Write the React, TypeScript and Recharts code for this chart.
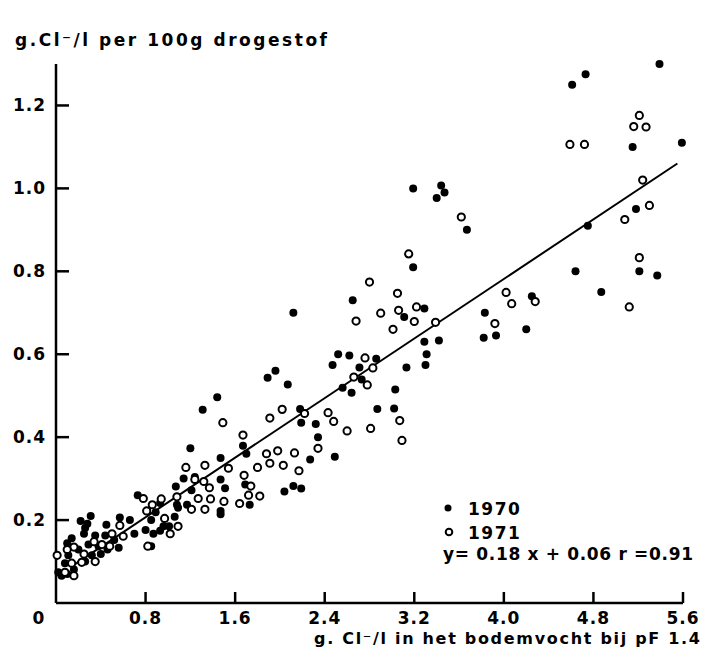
import React from 'react';
import { ScatterChart, Scatter, XAxis, YAxis, ReferenceLine, Label } from 'recharts';

const FONT = "'DejaVu Sans', 'Liberation Sans', sans-serif";

const xTicks = [0, 0.8, 1.6, 2.4, 3.2, 4.0, 4.8, 5.6];
const yTicks = [0.2, 0.4, 0.6, 0.8, 1.0, 1.2];

const yTitle = 'g.Cl⁻/l per 100g  drogestof';
const xTitle = 'g. Cl⁻/l in het bodemvocht bij pF 1.4';
const seriesNames = ['1970', '1971'];
const equationText = 'y= 0.18 x + 0.06  r =0.91';

// regression line end points
const regressionLine = [
  { x: 0.15, y: 0.09 },
  { x: 5.55, y: 1.06 },
];

// 1970 (filled dots)
const points1970: [number, number][] = [
  [5.39, 1.30], [4.73, 1.275], [4.61, 1.25], [5.15, 1.10], [5.59, 1.11], [4.75, 0.91], [5.18, 0.95],
  [4.64, 0.80], [5.21, 0.80], [5.37, 0.79], [4.87, 0.75], [4.25, 0.74], [3.83, 0.70], [4.20, 0.66],
  [3.93, 0.645], [3.82, 0.64],
  [3.19, 1.00], [3.44, 1.007], [3.47, 0.99], [3.40, 0.977], [3.67, 0.90], [3.19, 0.81], [2.65, 0.73],
  [3.29, 0.71], [3.11, 0.69], [3.29, 0.63], [3.42, 0.633], [3.31, 0.60], [3.30, 0.574], [3.13, 0.568],
  [2.52, 0.60], [2.62, 0.597], [2.47, 0.574], [2.86, 0.589], [2.71, 0.568], [2.73, 0.539], [2.56, 0.519],
  [2.64, 0.507], [3.03, 0.515], [2.87, 0.468], [3.02, 0.469], [2.32, 0.432], [2.34, 0.40], [2.49, 0.353],
  [2.27, 0.346],
  [2.12, 0.70], [1.96, 0.56], [1.89, 0.543], [2.07, 0.527], [1.44, 0.496], [1.31, 0.466], [2.18, 0.468],
  [2.19, 0.435], [1.20, 0.373], [1.67, 0.379], [1.70, 0.36], [1.47, 0.35], [1.14, 0.30], [1.24, 0.304],
  [1.47, 0.298], [1.51, 0.277], [1.07, 0.281], [1.21, 0.272], [1.69, 0.286], [2.12, 0.282], [2.19, 0.276],
  [2.04, 0.269], [1.73, 0.237],
  [1.47, 0.222], [1.17, 0.237], [0.73, 0.26], [0.93, 0.241], [1.08, 0.237], [1.09, 0.23], [1.47, 0.214],
  [1.06, 0.208], [0.89, 0.219], [0.85, 0.20], [0.93, 0.174], [0.87, 0.167], [0.85, 0.137], [0.96, 0.185],
  [1.01, 0.185], [0.57, 0.206], [0.66, 0.20], [0.80, 0.176], [0.70, 0.167], [0.45, 0.189], [0.44, 0.163],
  [0.31, 0.21], [0.22, 0.198], [0.28, 0.191], [0.26, 0.181], [0.14, 0.156], [0.10, 0.144], [0.25, 0.167],
  [0.35, 0.163], [0.52, 0.152], [0.29, 0.141], [0.38, 0.137], [0.20, 0.129], [0.46, 0.129], [0.56, 0.133],
  [0.11, 0.115], [0.32, 0.115], [0.40, 0.118], [0.26, 0.10], [0.08, 0.096], [0.16, 0.081], [0.02, 0.074],
  [0.05, 0.066], [0.10, 0.07],
];

// 1971 (open circles)
const points1971: [number, number][] = [
  [5.21, 1.176], [5.16, 1.149], [5.27, 1.148], [4.59, 1.106], [4.72, 1.106], [5.24, 1.02], [5.30, 0.959],
  [5.08, 0.925], [5.21, 0.833], [4.02, 0.749], [4.07, 0.722], [4.28, 0.727], [5.12, 0.714], [3.92, 0.674],
  [3.62, 0.931], [3.15, 0.842], [2.80, 0.774], [3.05, 0.747], [3.06, 0.706], [3.22, 0.714], [2.90, 0.699],
  [3.20, 0.679], [3.39, 0.677], [2.68, 0.68], [3.01, 0.66], [2.76, 0.591], [2.83, 0.567], [2.66, 0.545],
  [2.78, 0.526], [2.22, 0.457], [2.43, 0.459], [2.48, 0.438], [2.60, 0.415], [2.81, 0.421], [3.07, 0.44],
  [3.09, 0.392], [2.34, 0.373],
  [1.49, 0.435], [1.91, 0.446], [2.02, 0.467], [1.67, 0.405], [1.88, 0.36], [1.98, 0.367], [2.13, 0.362],
  [1.91, 0.337], [2.03, 0.332], [1.80, 0.327], [1.54, 0.325], [1.33, 0.332], [1.16, 0.327], [2.17, 0.319],
  [1.24, 0.298], [1.32, 0.293], [1.37, 0.278], [1.68, 0.308], [1.74, 0.282], [1.08, 0.256], [1.27, 0.252],
  [1.38, 0.251], [1.50, 0.245], [1.64, 0.24], [1.72, 0.26], [1.82, 0.258], [0.94, 0.251],
  [1.21, 0.226], [1.33, 0.226], [0.97, 0.204], [1.09, 0.185], [1.02, 0.167],
  [0.78, 0.252], [0.57, 0.187], [0.60, 0.161], [0.82, 0.137], [0.34, 0.148], [0.41, 0.141], [0.16, 0.135],
  [0.25, 0.118], [0.35, 0.10], [0.23, 0.098], [0.01, 0.115], [0.08, 0.074], [0.16, 0.066], [0.48, 0.137],
  [0.50, 0.167], [0.81, 0.222], [0.86, 0.237], [0.10, 0.129], [0.14, 0.096],
];

const data1970 = points1970.map(([x, y]) => ({ x, y }));
const data1971 = points1971.map(([x, y]) => ({ x, y }));

const textStyle = { fontFamily: FONT, fontWeight: 700, fontSize: 17, fill: '#000' } as const;

const fmt = (v: number) => (v === 0 ? '0' : v.toFixed(1));

const XTick = (props: any) => {
  const { x, y, payload } = props;
  const v = payload.value as number;
  const isZero = v === 0;
  return (
    <g>
      {!isZero && <line x1={x} x2={x} y1={y} y2={y - 11} stroke="#000" strokeWidth={2.5} />}
      <text x={isZero ? x - 17 : x} y={y + 21} textAnchor="middle" letterSpacing={1} {...textStyle}>
        {fmt(v)}
      </text>
    </g>
  );
};

const YTick = (props: any) => {
  const { x, y, payload } = props;
  const v = payload.value as number;
  return (
    <g>
      <line x1={x} x2={x + 13} y1={y} y2={y} stroke="#000" strokeWidth={2.5} />
      <text x={x - 10} y={y + 6} textAnchor="end" letterSpacing={1} {...textStyle}>
        {fmt(v)}
      </text>
    </g>
  );
};

const FilledDot = (p: any) => <circle cx={p.cx} cy={p.cy} r={4} fill="#000" />;
const OpenDot = (p: any) => (
  <circle cx={p.cx} cy={p.cy} r={3.6} fill="#fff" stroke="#000" strokeWidth={2} />
);

const LegendBox = () => (
  <svg width={262} height={76} style={{ display: 'block' }}>
    <circle cx={10} cy={16} r={3.5} fill="#000" />
    <text x={30} y={23} letterSpacing={1.5} {...textStyle}>{seriesNames[0]}</text>
    <circle cx={11} cy={40} r={3.3} fill="#fff" stroke="#000" strokeWidth={2} />
    <text x={30} y={47} letterSpacing={1.5} {...textStyle}>{seriesNames[1]}</text>
    <text x={5} y={68} textLength={250} lengthAdjust="spacing" {...textStyle}>{equationText}</text>
  </svg>
);

export default function App() {
  return (
    <div style={{ position: 'absolute', left: 0, top: 0, width: 702, height: 652, background: '#fff' }}>
      <ScatterChart width={702} height={652} margin={{ top: 64, right: 19, bottom: 19, left: 16 }}>
        <XAxis
          type="number"
          dataKey="x"
          domain={[0, 5.6]}
          ticks={xTicks}
          tick={<XTick />}
          tickLine={false}
          tickSize={0}
          tickMargin={0}
          height={30}
          axisLine={{ stroke: '#000', strokeWidth: 2.5 }}
          interval={0}
        >
          <Label
            content={() => (
              <text
                x={700}
                y={644}
                textAnchor="end"
                textLength={386}
                lengthAdjust="spacing"
                {...textStyle}
                fontSize={16}
              >
                {xTitle}
              </text>
            )}
          />
        </XAxis>
        <YAxis
          type="number"
          dataKey="y"
          domain={[0, 1.2]}
          ticks={yTicks}
          tick={<YTick />}
          tickLine={false}
          tickSize={0}
          tickMargin={0}
          width={40}
          axisLine={{ stroke: '#000', strokeWidth: 2.5 }}
          interval={0}
        >
          <Label
            content={() => (
              <text x={15} y={46} textAnchor="start" textLength={312} lengthAdjust="spacing" {...textStyle}>
                {yTitle}
              </text>
            )}
          />
        </YAxis>
        <ReferenceLine segment={regressionLine} stroke="#000" strokeWidth={2} ifOverflow="visible" />
        <Scatter name={seriesNames[0]} data={data1970} shape={FilledDot} isAnimationActive={false} />
        <Scatter name={seriesNames[1]} data={data1971} shape={OpenDot} isAnimationActive={false} />
      </ScatterChart>
      <div style={{ position: 'absolute', left: 438, top: 492, width: 262, height: 76 }}>
        <LegendBox />
      </div>
    </div>
  );
}
